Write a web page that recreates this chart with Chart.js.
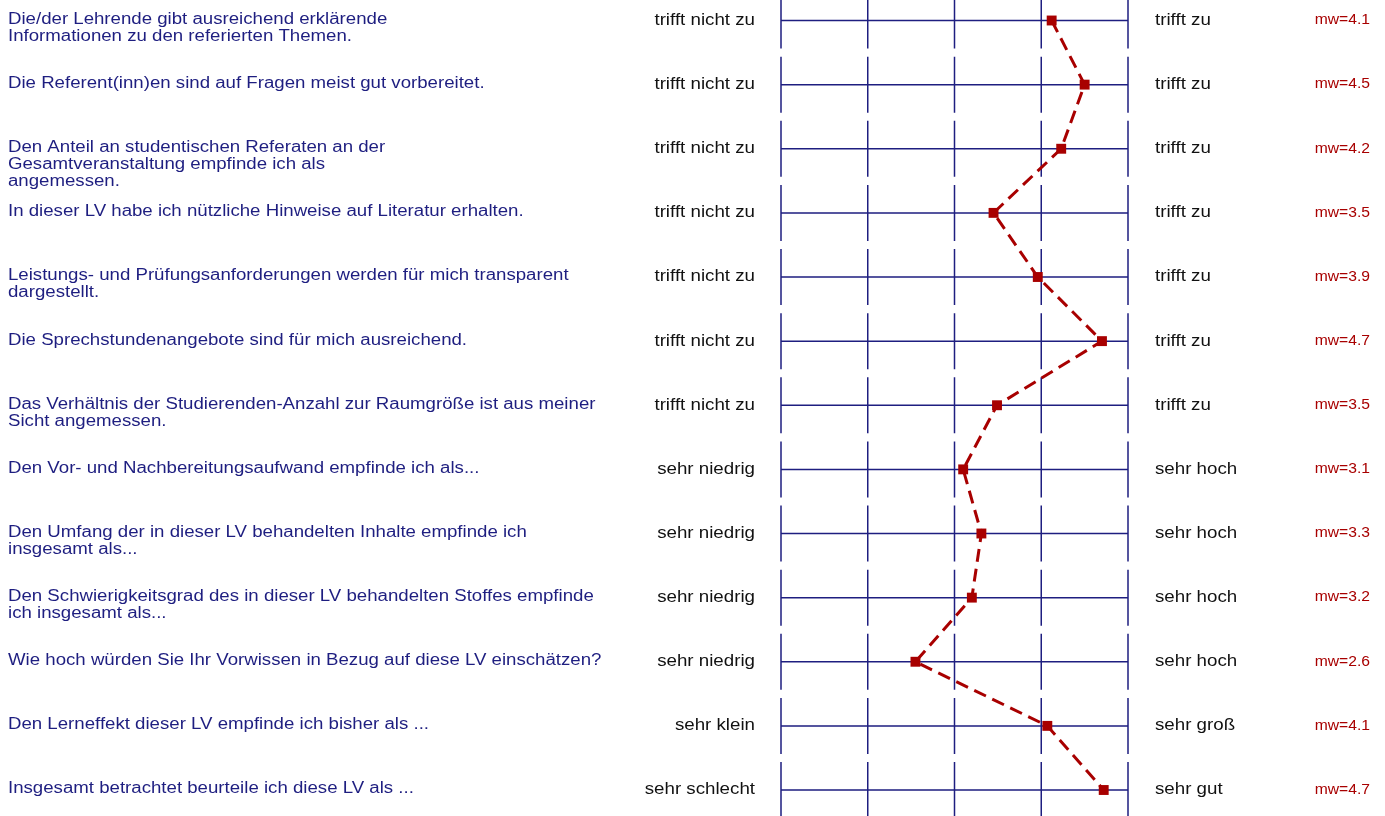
<!DOCTYPE html>
<html>
<head>
<meta charset="utf-8">
<script src="https://cdn.jsdelivr.net/npm/chart.js@4"></script>
<style>
  html, body { margin: 0; padding: 0; background: #fff; }
  #wrap { width: 1385px; height: 816px; }
</style>
</head>
<body>
<div id="wrap"><canvas id="profile"></canvas></div>
<script>
const questions = [
    ['Die/der Lehrende gibt ausreichend erklärende', 'Informationen zu den referierten Themen.'],
    ['Die Referent(inn)en sind auf Fragen meist gut vorbereitet.'],
    ['Den Anteil an studentischen Referaten an der', 'Gesamtveranstaltung empfinde ich als', 'angemessen.'],
    ['In dieser LV habe ich nützliche Hinweise auf Literatur erhalten.'],
    ['Leistungs- und Prüfungsanforderungen werden für mich transparent', 'dargestellt.'],
    ['Die Sprechstundenangebote sind für mich ausreichend.'],
    ['Das Verhältnis der Studierenden-Anzahl zur Raumgröße ist aus meiner', 'Sicht angemessen.'],
    ['Den Vor- und Nachbereitungsaufwand empfinde ich als...'],
    ['Den Umfang der in dieser LV behandelten Inhalte empfinde ich', 'insgesamt als...'],
    ['Den Schwierigkeitsgrad des in dieser LV behandelten Stoffes empfinde', 'ich insgesamt als...'],
    ['Wie hoch würden Sie Ihr Vorwissen in Bezug auf diese LV einschätzen?'],
    ['Den Lerneffekt dieser LV empfinde ich bisher als ...'],
    ['Insgesamt betrachtet beurteile ich diese LV als ...']
];
const leftLabels = ['trifft nicht zu', 'trifft nicht zu', 'trifft nicht zu', 'trifft nicht zu', 'trifft nicht zu',
    'trifft nicht zu', 'trifft nicht zu', 'sehr niedrig', 'sehr niedrig', 'sehr niedrig', 'sehr niedrig',
    'sehr klein', 'sehr schlecht'];
const rightLabels = ['trifft zu', 'trifft zu', 'trifft zu', 'trifft zu', 'trifft zu', 'trifft zu', 'trifft zu',
    'sehr hoch', 'sehr hoch', 'sehr hoch', 'sehr hoch', 'sehr groß', 'sehr gut'];
const values = [4.12, 4.50, 4.23, 3.45, 3.96, 4.70, 3.49, 3.10, 3.31, 3.20, 2.55, 4.07, 4.72];
const meanLabels = ['4.1', '4.5', '4.2', '3.5', '3.9', '4.7', '3.5', '3.1', '3.3', '3.2', '2.6', '4.1', '4.7'];
const scaleTicks = [1, 2, 3, 4, 5];

const navy = '#1e1e80';
const darkRed = '#a80000';
const font = '"Liberation Sans", Arial, sans-serif';

// the reference text is a bit wider than plain Arial, so stretch it sideways
function wideText(ctx, text, x, y, align, stretch) {
    ctx.save();
    ctx.translate(x, y);
    ctx.scale(stretch, 1);
    ctx.textAlign = align;
    ctx.fillText(text, 0, 0);
    ctx.restore();
}

// grid segments + row texts
const profilePlugin = {
    id: 'profile',
    beforeDatasetsDraw(chart) {
        const ctx = chart.ctx;
        const xs = chart.scales.x;
        const ys = chart.scales.y;
        ctx.save();
        ctx.strokeStyle = navy;
        ctx.lineWidth = 1.5;
        questions.forEach((q, i) => {
            const y = ys.getPixelForValue(i);
            ctx.beginPath();
            ctx.moveTo(xs.getPixelForValue(1), y);
            ctx.lineTo(xs.getPixelForValue(5), y);
            scaleTicks.forEach(t => {
                const x = xs.getPixelForValue(t);
                ctx.moveTo(x, y - 28);
                ctx.lineTo(x, y + 28);
            });
            ctx.stroke();
        });

        ctx.textBaseline = 'middle';
        questions.forEach((q, i) => {
            const y = ys.getPixelForValue(i);
            ctx.font = '16px ' + font;
            ctx.fillStyle = navy;
            q.forEach((line, k) => wideText(ctx, line, 8, y - 1 + k * 17, 'left', 1.165));

            ctx.fillStyle = '#111';
            wideText(ctx, leftLabels[i], 755, y, 'right', 1.17);
            wideText(ctx, rightLabels[i], 1155, y, 'left', 1.17);

            ctx.font = '14px ' + font;
            ctx.fillStyle = darkRed;
            wideText(ctx, 'mw=' + meanLabels[i], 1370, y, 'right', 1.12);
        });
        ctx.restore();
    }
};

new Chart(document.getElementById('profile'), {
    type: 'line',
    data: {
        datasets: [{
            data: values.map((v, i) => ({ x: v, y: i })),
            borderColor: darkRed,
            backgroundColor: darkRed,
            borderWidth: 3,
            borderDash: [13, 7],
            pointStyle: 'rect',
            pointRadius: 7,
            pointBorderWidth: 0,
            tension: 0,
            clip: false
        }]
    },
    options: {
        responsive: true,
        maintainAspectRatio: false,
        animation: false,
        layout: { padding: { left: 781, right: 257, top: 20.5, bottom: 26 } },
        scales: {
            x: { type: 'linear', min: 1, max: 5, display: false },
            y: { type: 'linear', min: 0, max: 12, reverse: true, display: false }
        },
        plugins: {
            legend: { display: false },
            tooltip: { enabled: false }
        }
    },
    plugins: [profilePlugin]
});
</script>
</body>
</html>
